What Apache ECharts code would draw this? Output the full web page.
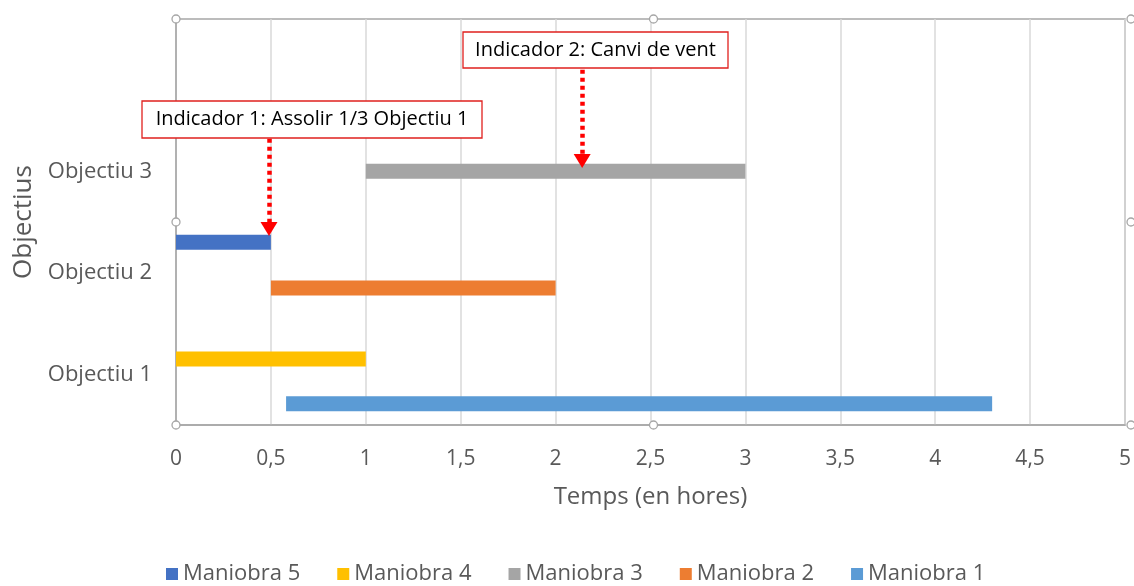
<!DOCTYPE html>
<html>
<head>
<meta charset="utf-8">
<script src="https://cdn.jsdelivr.net/npm/echarts@6/dist/echarts.min.js"></script>
<style>
html,body{margin:0;padding:0;background:#fff;overflow:hidden;}
#chart{width:1134px;height:586px;}
</style>
</head>
<body>
<div id="chart"></div>
<script>
// ---- data ----
const categories = ['Objectiu 1', 'Objectiu 2', 'Objectiu 3'];
const categoryPos = [0.5, 1.5, 2.5];
const seriesNames = ['Maniobra 1', 'Maniobra 2', 'Maniobra 3', 'Maniobra 4', 'Maniobra 5'];
const seriesStart = [0.58, 0.5, 1.0, 0.0, 0.0];
const seriesEnd   = [4.3, 2.0, 3.0, 1.0, 0.5];
const seriesRow   = [0.21, 1.35, 2.5, 0.65, 1.8];
const legendOrder = ['Maniobra 5', 'Maniobra 4', 'Maniobra 3', 'Maniobra 2', 'Maniobra 1'];
const xTicks = [0, 0.5, 1, 1.5, 2, 2.5, 3, 3.5, 4, 4.5, 5];
const indicatorText = ['Indicador 1: Assolir 1/3 Objectiu 1', 'Indicador 2: Canvi de vent'];
const indicatorX = [0.49, 2.14];
const indicatorFrom = [2.82, 3.5];
const indicatorTo = [1.93, 2.6];

const colors = {
  'Maniobra 1': '#5B9BD5',
  'Maniobra 2': '#ED7D31',
  'Maniobra 3': '#A5A5A5',
  'Maniobra 4': '#FFC000',
  'Maniobra 5': '#4472C4'
};
const FONT = '"Open Sans"';
const TXT = '#595959';

const G = {left: 176, top: 19, width: 955, height: 406};

const chart = echarts.init(document.getElementById('chart'), null, {renderer: 'canvas', width: 1134, height: 586});

const series = seriesNames.map((n, i) => ({
  name: n,
  type: 'line',
  color: colors[n],
  symbol: 'none',
  silent: true,
  lineStyle: {width: 15, color: colors[n], cap: 'butt'},
  data: [[seriesStart[i], seriesRow[i]], [seriesEnd[i], seriesRow[i]]],
  z: 3
}));

series.push({
  name: 'indicadors',
  type: 'line',
  data: [],
  silent: true,
  markLine: {
    silent: true,
    symbol: ['none', 'triangle'],
    symbolSize: [17, 14],
    symbolRotate: 180,
    label: {show: false},
    lineStyle: {color: '#FF0000', width: 4.5, type: [4, 4]},
    data: indicatorX.map((x, i) => [
      {coord: [x, indicatorFrom[i]]},
      {coord: [x, indicatorTo[i]]}
    ])
  },
  z: 5
});

const option = {
  animation: false,
  backgroundColor: '#fff',
  textStyle: {fontFamily: FONT},
  grid: {left: G.left, top: G.top, width: G.width, height: G.height, show: true, borderColor: '#A6A6A6', borderWidth: 1.5, containLabel: false},
  xAxis: {
    type: 'value', min: 0, max: 5, interval: 0.5,
    name: 'Temps (en hores)', nameLocation: 'middle', nameGap: 60,
    nameTextStyle: {color: TXT, fontSize: 24, fontFamily: FONT},
    axisLine: {show: true, lineStyle: {color: '#A6A6A6', width: 1.5}},
    axisTick: {show: false},
    splitLine: {show: true, lineStyle: {color: '#D9D9D9', width: 1.5}},
    axisLabel: {color: TXT, fontSize: 21, fontFamily: FONT, margin: 24,
      formatter: v => String(v).replace('.', ',')}
  },
  yAxis: {
    type: 'value', min: 0, max: 4, interval: 0.5,
    name: 'Objectius', nameLocation: 'middle', nameGap: 135, nameRotate: 90,
    nameTextStyle: {color: TXT, fontSize: 26, fontFamily: FONT},
    axisLine: {show: true, lineStyle: {color: '#A6A6A6', width: 1.5}},
    axisTick: {show: false},
    splitLine: {show: false},
    axisLabel: {color: TXT, fontSize: 22, fontFamily: FONT, margin: 24,
      formatter: v => {
        const k = categoryPos.indexOf(v);
        return k >= 0 ? categories[k] : '';
      }}
  },
  legend: {
    data: legendOrder, top: 558, left: 161,
    icon: 'rect', itemWidth: 12, itemHeight: 12, itemGap: 37,
    textStyle: {color: TXT, fontSize: 22, fontFamily: FONT}
  },
  series: series
};
chart.setOption(option);

// annotation boxes and selection handles
const handles = [];
[[0,0],[0.5,0],[1,0],[0,0.5],[1,0.5],[0,1],[0.5,1],[1,1]].forEach(p => {
  handles.push({type: 'circle', z: 100,
    shape: {cx: G.left + p[0] * G.width, cy: G.top + p[1] * G.height, r: 4},
    style: {fill: '#fff', stroke: '#A6A6A6', lineWidth: 1.3}});
});
const boxes = [];
const boxDefs = [
  {left: 142, top: 101, w: 340, h: 37},
  {left: 463, top: 32, w: 265, h: 36}
];
boxDefs.forEach((b, i) => {
  boxes.push({type: 'rect', z: 50, shape: {x: b.left, y: b.top, width: b.w, height: b.h},
    style: {fill: '#fff', stroke: '#E0201E', lineWidth: 1.3}});
  boxes.push({type: 'text', z: 51, x: b.left + b.w / 2, y: b.top + b.h / 2,
    style: {text: indicatorText[i], fill: '#000', font: '20px ' + FONT, align: 'center', verticalAlign: 'middle'}});
});
chart.setOption({graphic: boxes.concat(handles)});
</script>
</body>
</html>
